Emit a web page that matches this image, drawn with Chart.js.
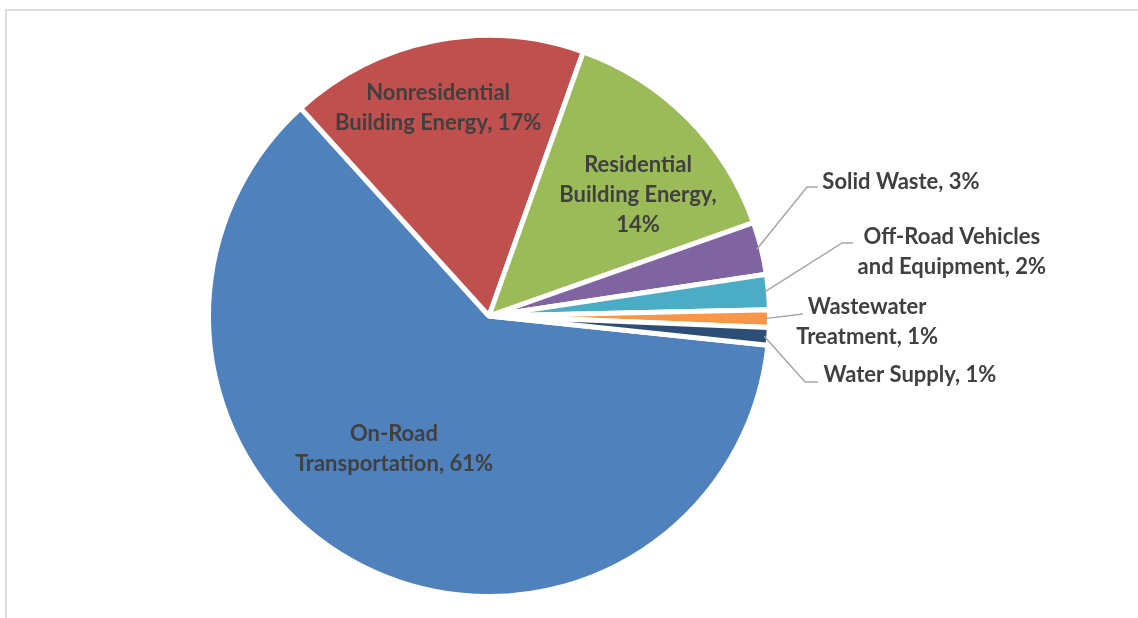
<!DOCTYPE html>
<html lang="en">
<head>
  <meta charset="UTF-8">
  <title>GHG Emissions by Sector</title>
  <script src="https://cdn.jsdelivr.net/npm/chart.js"></script>
  <style>
    html, body { margin: 0; padding: 0; background: #fff; overflow: hidden; }
    .frame {
      position: absolute; left: 5px; top: 9px; width: 1300px; height: 800px;
      border: 2px solid #dedede; box-sizing: border-box;
    }
    canvas { position: absolute; left: 0; top: 0; }
  </style>
</head>
<body>
  <div class="frame"></div>
  <canvas id="sectorChart" width="1138" height="618"></canvas>

  <script>
// sectors and their share of emissions (%)
const categories = [
  "On-Road Transportation",
  "Nonresidential Building Energy",
  "Residential Building Energy",
  "Solid Waste",
  "Off-Road Vehicles and Equipment",
  "Wastewater Treatment",
  "Water Supply"
];
const values = [61, 17, 14, 3, 2, 1, 1];

const colors = ["#4F81BD", "#C0504D", "#9BBB59", "#8064A2", "#4BACC6", "#F79646", "#2C4D75"];

// word index after which each label wraps
const labelBreaks = [[1], [1], [1, 3], [], [2], [1], []];

// label placement in units of the pie radius, relative to its centre
// text: centre of the text block; elbow/end: leader line bend and end (outside labels only)
const labelLayout = [
  { text: [-0.342, 0.478] },
  { text: [-0.183, -0.750] },
  { text: [0.536, -0.435] },
  { text: [1.482, -0.482], elbow: [1.144, -0.464], end: [1.183, -0.464] },
  { text: [1.665, -0.230], elbow: [1.270, -0.263], end: [1.309, -0.263] },
  { text: [1.360, 0.022], elbow: null, end: [1.129, -0.007] },
  { text: [1.514, 0.212], elbow: [1.137, 0.237], end: [1.183, 0.237] }
];

const FONT = "bold 22px Lato";
const LINE_H = 30;

function wrapLabel(i) {
  const words = `${categories[i]}, ${values[i]}%`.split(" ");
  const lines = [];
  let start = 0;
  labelBreaks[i].concat([words.length]).forEach(b => {
    lines.push(words.slice(start, b).join(" "));
    start = b;
  });
  return lines;
}

// draws the data labels and leader lines
const sliceLabels = {
  id: "sliceLabels",
  afterDatasetsDraw(chart) {
    const ctx = chart.ctx;
    const arcs = chart.getDatasetMeta(0).data;
    const bw = chart.data.datasets[0].borderWidth;
    ctx.save();
    arcs.forEach((arc, i) => {
      const { x, y, startAngle, endAngle, outerRadius } = arc.getProps(["x", "y", "startAngle", "endAngle", "outerRadius"], true);
      const r = outerRadius - bw / 2;
      const lay = labelLayout[i];

      if (lay.end) {
        const mid = (startAngle + endAngle) / 2;
        ctx.beginPath();
        ctx.moveTo(x + Math.cos(mid) * (r - 2), y + Math.sin(mid) * (r - 2));
        if (lay.elbow) ctx.lineTo(x + lay.elbow[0] * r, y + lay.elbow[1] * r);
        ctx.lineTo(x + lay.end[0] * r, y + lay.end[1] * r);
        ctx.strokeStyle = "#a6a6a6";
        ctx.lineWidth = 1.5;
        ctx.stroke();
      }

      const lines = wrapLabel(i);
      const tx = x + lay.text[0] * r;
      const ty = y + lay.text[1] * r - (lines.length - 1) * LINE_H / 2;
      ctx.font = FONT;
      ctx.fillStyle = "#404040";
      ctx.textAlign = "center";
      ctx.textBaseline = "middle";
      lines.forEach((line, k) => ctx.fillText(line, tx, ty + k * LINE_H));
    });
    ctx.restore();
  }
};

const ctx = document.getElementById("sectorChart").getContext("2d");
new Chart(ctx, {
  type: "pie",
  data: {
    labels: categories,
    datasets: [{
      data: values,
      backgroundColor: colors,
      borderColor: "#ffffff",
      borderWidth: 5
    }]
  },
  options: {
    responsive: false,
    animation: false,
    rotation: 96,
    layout: { padding: { left: 150, right: 310, top: 33, bottom: 19 } },
    plugins: {
      legend: { display: false },
      tooltip: { enabled: false }
    }
  },
  plugins: [sliceLabels]
});
  </script>
</body>
</html>
